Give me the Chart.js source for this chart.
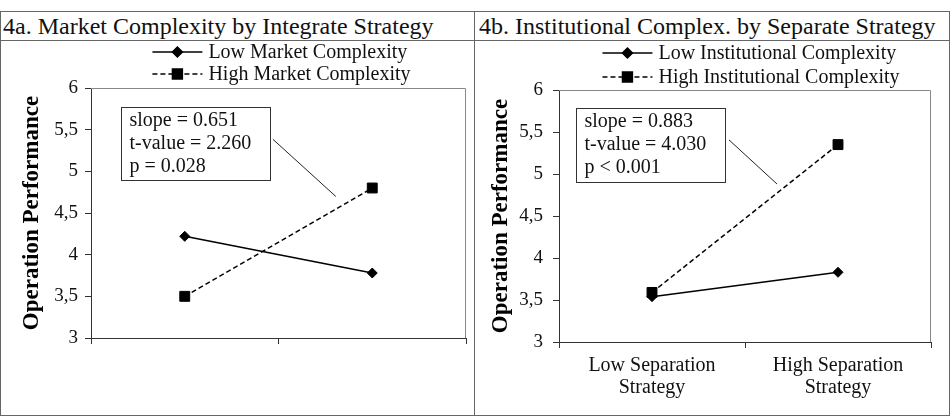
<!DOCTYPE html>
<html lang="en">
<head>
    <meta charset="UTF-8">
    <title>Operation Performance - interaction plots</title>
    <script src="https://cdn.jsdelivr.net/npm/chart.js@4.4.0/dist/chart.umd.min.js"></script>
    <style>
        body { margin: 0; background: #fff; font-family: "Liberation Serif", "Times New Roman", serif; }
        .box { position: absolute; border: 1px solid #666; box-sizing: border-box; }
        .title { position: absolute; top: 12px; height: 28px; font-size: 24px; line-height: 28px; color: #111; padding-left: 3px; white-space: nowrap; }
        .panel { position: absolute; top: 41px; width: 473px; height: 373px; }
    </style>
</head>
<body>
    <div class="box" style="left:0px; top:11px; width:950px; height:405px;"></div>
    <div class="box" style="left:0px; top:11px; width:950px; height:30px; border-left:none; border-right:none; border-top:none;"></div>
    <div class="box" style="left:474px; top:11px; width:1px; height:405px; border:none; background:#666;"></div>
    <div class="title" style="left:0px;">4a. Market Complexity by Integrate Strategy</div>
    <div class="title" style="left:476px;">4b. Institutional Complex. by Separate Strategy</div>
    <div class="panel" style="left:1px;"><canvas id="chartA" width="473" height="373"></canvas></div>
    <div class="panel" style="left:475px;"><canvas id="chartB" width="473" height="373"></canvas></div>

    <script>
        // values
        var categoriesA = ['', ''];
        var categoriesB = [['Low Separation', 'Strategy'], ['High Separation', 'Strategy']];
        var lowMarket = [4.22, 3.78];
        var highMarket = [3.50, 4.80];
        var lowInstitutional = [3.54, 3.83];
        var highInstitutional = [3.59, 5.35];
        var yTickLabels = ['3', '3,5', '4', '4,5', '5', '5,5', '6'];

        var serif = '"Liberation Serif", "Times New Roman", serif';

        // gray frame on top/right of the plot area
        var plotFrame = {
            id: 'plotFrame',
            beforeDatasetsDraw: function(chart) {
                var a = chart.chartArea, ctx = chart.ctx;
                ctx.save();
                ctx.strokeStyle = '#888';
                ctx.lineWidth = 1;
                ctx.beginPath();
                ctx.moveTo(a.left, a.top + 0.5);
                ctx.lineTo(a.right - 0.5, a.top + 0.5);
                ctx.lineTo(a.right - 0.5, a.bottom);
                ctx.stroke();
                ctx.restore();
            }
        };

        // legend drawn by hand: line sample + marker + label, one row per series
        var lineLegend = {
            id: 'lineLegend',
            afterDraw: function(chart, args, opts) {
                var ctx = chart.ctx, a = chart.chartArea;
                ctx.save();
                ctx.font = '20px ' + serif;
                var maxW = 0;
                chart.data.datasets.forEach(function(ds) {
                    maxW = Math.max(maxW, ctx.measureText(ds.label).width);
                });
                var sample = 50, gap = 6;
                var x0 = (a.left + a.right) / 2 - (sample + gap + maxW) / 2 + (opts.shift || 0);
                chart.data.datasets.forEach(function(ds, i) {
                    var y = opts.rows[i];
                    ctx.strokeStyle = '#000';
                    ctx.lineWidth = 1.5;
                    ctx.setLineDash(ds.borderDash || []);
                    ctx.beginPath();
                    ctx.moveTo(x0, y);
                    ctx.lineTo(x0 + sample, y);
                    ctx.stroke();
                    ctx.setLineDash([]);
                    Chart.helpers.drawPoint(ctx, {
                        pointStyle: ds.pointStyle,
                        radius: ds.pointRadius,
                        borderWidth: 1
                    }, x0 + sample / 2, y);
                    ctx.fillStyle = '#000';
                    ctx.fill();
                    ctx.fillStyle = '#111';
                    ctx.textBaseline = 'middle';
                    ctx.textAlign = 'left';
                    ctx.fillText(ds.label, x0 + sample + gap, y + 1);
                });
                ctx.restore();
            }
        };

        // slope / t-value / p text box with a leader line
        var noteBox = {
            id: 'noteBox',
            afterDatasetsDraw: function(chart, args, opts) {
                var a = chart.chartArea, ctx = chart.ctx;
                var w = a.right - a.left, h = a.bottom - a.top;
                var fx = function(f) { return a.left + f * w; };
                var fy = function(f) { return a.top + f * h; };
                ctx.save();
                ctx.strokeStyle = '#222';
                ctx.lineWidth = 1;
                ctx.beginPath();
                ctx.moveTo(fx(opts.leader[0]), fy(opts.leader[1]));
                ctx.lineTo(fx(opts.leader[2]), fy(opts.leader[3]));
                ctx.stroke();
                var bx = Math.round(fx(opts.box[0])) + 0.5, by = Math.round(fy(opts.box[1])) + 0.5;
                var bw = Math.round(fx(opts.box[2]) - fx(opts.box[0])), bh = Math.round(fy(opts.box[3]) - fy(opts.box[1]));
                ctx.fillStyle = '#fff';
                ctx.fillRect(bx, by, bw, bh);
                ctx.strokeStyle = '#333';
                ctx.strokeRect(bx, by, bw, bh);
                ctx.fillStyle = '#111';
                ctx.font = '20px ' + serif;
                ctx.textBaseline = 'middle';
                opts.lines.forEach(function(t, i) {
                    ctx.fillText(t, bx + 8, by + 13 + i * 23);
                });
                ctx.restore();
            }
        };

        function makeChart(id, labels, lowData, highData, lowName, highName, cfg) {
            var ctx = document.getElementById(id).getContext('2d');
            return new Chart(ctx, {
                type: 'line',
                data: {
                    labels: labels,
                    datasets: [{
                        label: lowName,
                        data: lowData,
                        borderColor: '#000',
                        borderWidth: 1.5,
                        pointStyle: 'rectRot',
                        pointRadius: 5,
                        pointBackgroundColor: '#000',
                        pointBorderColor: '#000',
                        pointBorderWidth: 1
                    }, {
                        label: highName,
                        data: highData,
                        borderColor: '#000',
                        borderWidth: 1.5,
                        borderDash: [5, 3],
                        pointStyle: 'rect',
                        pointRadius: 7,
                        pointBackgroundColor: '#000',
                        pointBorderColor: '#000',
                        pointBorderWidth: 1
                    }]
                },
                options: {
                    responsive: false,
                    animation: false,
                    layout: { padding: { top: cfg.top, right: cfg.right, left: 0, bottom: 0 } },
                    scales: {
                        x: {
                            offset: true,
                            grid: { offset: true, drawOnChartArea: false, drawTicks: true, tickLength: 6, color: '#333' },
                            border: { display: true, color: '#333', width: 1 },
                            ticks: { padding: 7, color: '#111', font: { family: serif, size: 20, lineHeight: 1.1 }, maxRotation: 0 },
                            afterFit: function(scale) { scale.height = cfg.xHeight; }
                        },
                        y: {
                            min: 3,
                            max: 6,
                            grid: { drawOnChartArea: false, drawTicks: true, tickLength: 6, color: '#333' },
                            border: { display: true, color: '#333', width: 1 },
                            ticks: {
                                stepSize: 0.5,
                                padding: cfg.tickPad,
                                color: '#111',
                                font: { family: serif, size: 19 },
                                callback: function(v, i) { return yTickLabels[i]; }
                            },
                            title: {
                                display: true,
                                text: 'Operation Performance',
                                color: '#000',
                                font: { family: serif, size: 23, weight: 'bold' },
                                padding: { top: cfg.titlePad, bottom: 0 }
                            },
                            afterFit: function(scale) { scale.width = cfg.yWidth; }
                        }
                    },
                    plugins: {
                        legend: { display: false },
                        tooltip: { enabled: false },
                        lineLegend: { rows: cfg.legendRows, shift: cfg.legendShift },
                        noteBox: cfg.note
                    }
                },
                plugins: [plotFrame, noteBox, lineLegend]
            });
        }

        makeChart('chartA', categoriesA, lowMarket, highMarket,
            'Low Market Complexity', 'High Market Complexity', {
                top: 47, right: 8, xHeight: 76, yWidth: 90, tickPad: 7, titlePad: 17,
                legendRows: [11, 33], legendShift: 3,
                note: {
                    lines: ['slope = 0.651', 't-value = 2.260', 'p = 0.028'],
                    box: [0.08, 0.076, 0.477, 0.369],
                    leader: [0.485, 0.205, 0.653, 0.434]
                }
            });

        makeChart('chartB', categoriesB, lowInstitutional, highInstitutional,
            'Low Institutional Complexity', 'High Institutional Complexity', {
                top: 49, right: 17, xHeight: 72, yWidth: 84, tickPad: 10, titlePad: 12,
                legendRows: [12, 36], legendShift: 6,
                note: {
                    lines: ['slope = 0.883', 't-value = 4.030', 'p < 0.001'],
                    box: [0.046, 0.071, 0.446, 0.365],
                    leader: [0.457, 0.198, 0.586, 0.373]
                }
            });
    </script>
</body>
</html>
